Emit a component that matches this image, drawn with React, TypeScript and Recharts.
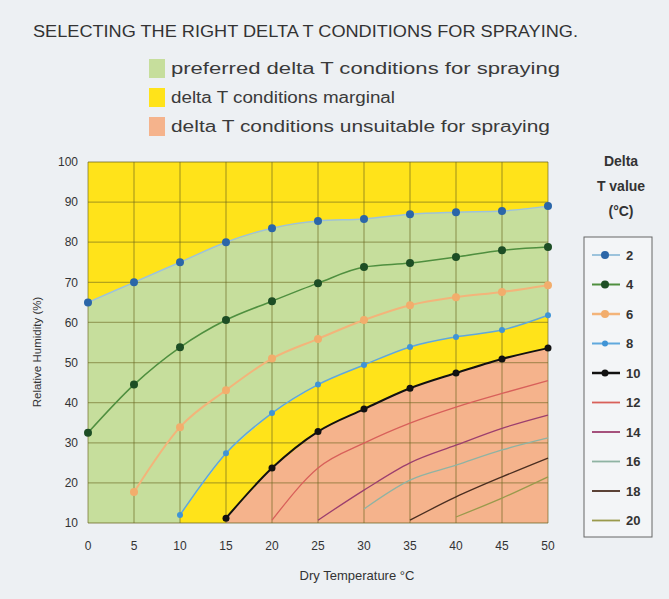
import React from "react";
import {
  ComposedChart,
  Area,
  Line,
  XAxis,
  YAxis,
  ReferenceArea,
  ReferenceLine,
} from "recharts";

// Dry temperature (°C)
const temps = [0, 5, 10, 15, 20, 25, 30, 35, 40, 45, 50];
// Relative humidity (%) for each Delta T value
const dt2 = [65, 70, 75, 80, 83.5, 85.3, 85.8, 87, 87.5, 87.8, 89];
const dt4 = [32.5, 44.5, 53.8, 60.6, 65.3, 69.8, 73.8, 74.8, 76.3, 78, 78.8];
const dt6 = [null, 17.7, 33.9, 43.1, 51, 55.9, 60.6, 64.3, 66.3, 67.6, 69.3];
const dt8 = [null, null, 12, 27.4, 37.4, 44.5, 49.4, 53.9, 56.4, 58.1, 61.8];
const dt10 = [null, null, null, 11.2, 23.7, 32.8, 38.4, 43.6, 47.4, 50.9, 53.6];
const dt12 = [null, null, null, null, 10.7, 23.7, 29.9, 34.9, 38.9, 42.3, 45.5];
const dt14 = [null, null, null, null, null, 10.7, 18.2, 25, 29.4, 33.6, 36.9];
const dt16 = [null, null, null, null, null, null, 13.5, 20.7, 24.4, 28.2, 31.2];
const dt18 = [null, null, null, null, null, null, null, 10.7, 16.5, 21.5, 26.2];
const dt20 = [null, null, null, null, null, null, null, null, 11.5, 16.2, 21.5];

const xTicks = [0, 5, 10, 15, 20, 25, 30, 35, 40, 45, 50];
const yTicks = [10, 20, 30, 40, 50, 60, 70, 80, 90, 100];

const title = "SELECTING THE RIGHT DELTA T CONDITIONS FOR SPRAYING.";
const zoneLabels = [
  "preferred delta T conditions for spraying",
  "delta T conditions marginal",
  "delta T conditions unsuitable for spraying",
];
const legendTitle = ["Delta", "T value", "(°C)"];
const xLabel = "Dry Temperature °C";
const yLabel = "Relative Humidity (%)";

const YELLOW = "#FFE31A";
const GREEN = "#C6DE9C";
const ORANGE = "#F5B38C";
const GRID = "rgba(105,100,30,0.5)";
const zoneColors = [GREEN, YELLOW, ORANGE];
const zoneWidths = [389, 224, 379];

const series = [
  { key: "dt2", name: "2", stroke: "#9cc3dc", width: 1.5, dot: "#2b66a8", r: 4 },
  { key: "dt4", name: "4", stroke: "#4f8f3f", width: 1.5, dot: "#1d4e25", r: 4 },
  { key: "dt6", name: "6", stroke: "#f3b47a", width: 2, dot: "#f2ad6c", r: 4 },
  { key: "dt8", name: "8", stroke: "#5fa8dd", width: 1.5, dot: "#3f94d6", r: 3 },
  { key: "dt10", name: "10", stroke: "#111111", width: 2, dot: "#111111", r: 3.5 },
  { key: "dt12", name: "12", stroke: "#d8605a", width: 1.3, dot: null, r: 0 },
  { key: "dt14", name: "14", stroke: "#9c3f6e", width: 1.3, dot: null, r: 0 },
  { key: "dt16", name: "16", stroke: "#8fb3a3", width: 1.3, dot: null, r: 0 },
  { key: "dt18", name: "18", stroke: "#4a2e20", width: 1.3, dot: null, r: 0 },
  { key: "dt20", name: "20", stroke: "#9a9a4c", width: 1.3, dot: null, r: 0 },
];

const data = temps.map((t, i) => ({
  t,
  dt2: dt2[i],
  dt4: dt4[i],
  dt6: dt6[i],
  dt8: dt8[i],
  dt10: dt10[i],
  dt12: dt12[i],
  dt14: dt14[i],
  dt16: dt16[i],
  dt18: dt18[i],
  dt20: dt20[i],
}));

const FONT = "'Liberation Sans', Arial, sans-serif";
const MARGIN = { top: 162, right: 121, bottom: 46, left: 38 };
const tickStyle = { fill: "#333", fontSize: 12, fontFamily: FONT };

export default function App() {
  return (
    <div
      style={{
        position: "absolute",
        left: 0,
        top: 0,
        width: 669,
        height: 599,
        background: "#edf0f3",
        overflow: "hidden",
      }}
    >
      {/* Layer 1: zone fills and axis tick labels */}
      <div style={{ position: "absolute", left: 0, top: 0 }}>
        <ComposedChart width={669} height={599} data={data} margin={MARGIN}>
          <ReferenceArea
            x1={0}
            x2={50}
            y1={10}
            y2={100}
            fill={YELLOW}
            fillOpacity={1}
            stroke="none"
          />
          <Area
            dataKey="dt2"
            type="linear"
            fill={GREEN}
            fillOpacity={1}
            stroke="none"
            dot={false}
            activeDot={false}
            isAnimationActive={false}
          />
          <Area
            dataKey="dt8"
            type="linear"
            fill={YELLOW}
            fillOpacity={1}
            stroke="none"
            dot={false}
            activeDot={false}
            isAnimationActive={false}
          />
          <Area
            dataKey="dt10"
            type="linear"
            fill={ORANGE}
            fillOpacity={1}
            stroke="none"
            dot={false}
            activeDot={false}
            isAnimationActive={false}
          />
          <XAxis
            dataKey="t"
            type="number"
            domain={[0, 50]}
            ticks={xTicks}
            axisLine={false}
            tickLine={false}
            tickMargin={12}
            tick={tickStyle}
          />
          <YAxis
            type="number"
            domain={[10, 100]}
            ticks={yTicks}
            allowDataOverflow
            axisLine={false}
            tickLine={false}
            tickMargin={4}
            width={50}
            tick={tickStyle}
          />
        </ComposedChart>
      </div>
      {/* Layer 2: grid and delta T curves on top of the fills */}
      <div style={{ position: "absolute", left: 0, top: 0 }}>
        <ComposedChart width={669} height={599} data={data} margin={MARGIN}>
          <XAxis
            dataKey="t"
            type="number"
            domain={[0, 50]}
            ticks={xTicks}
            axisLine={false}
            tickLine={false}
            tick={false}
          />
          <YAxis
            type="number"
            domain={[10, 100]}
            ticks={yTicks}
            allowDataOverflow
            axisLine={false}
            tickLine={false}
            width={50}
            tick={false}
          />
          {xTicks.map((x) => (
            <ReferenceLine key={"vx" + x} x={x} stroke={GRID} strokeWidth={1.3} />
          ))}
          {yTicks.map((y) => (
            <ReferenceLine key={"hy" + y} y={y} stroke={GRID} strokeWidth={1.3} />
          ))}
          {series.map((s) => (
            <Line
              key={s.key}
              dataKey={s.key}
              type="monotone"
              stroke={s.stroke}
              strokeWidth={s.width}
              dot={s.dot ? { r: s.r, fill: s.dot, stroke: s.dot, strokeWidth: 0 } : false}
              activeDot={false}
              isAnimationActive={false}
            />
          ))}
        </ComposedChart>
      </div>
      <svg
        width={669}
        height={599}
        style={{ position: "absolute", left: 0, top: 0, pointerEvents: "none" }}
      >
        <text
          x={33}
          y={37}
          fontSize={16}
          fill="#333"
          fontFamily={FONT}
          textLength={545}
          lengthAdjust="spacingAndGlyphs"
        >
          {title}
        </text>
        {zoneLabels.map((lab, i) => (
          <g key={lab}>
            <rect x={149} y={59 + i * 29} width={16} height={19} fill={zoneColors[i]} />
            <text
              x={171}
              y={74 + i * 29}
              fontSize={16}
              fill="#3a3a3a"
              fontFamily={FONT}
              textLength={zoneWidths[i]}
              lengthAdjust="spacingAndGlyphs"
            >
              {lab}
            </text>
          </g>
        ))}
        <text
          x={38}
          y={352}
          fontSize={11.5}
          fill="#333"
          fontFamily={FONT}
          textAnchor="middle"
          transform="rotate(-90 38 352)"
          dominantBaseline="middle"
        >
          {yLabel}
        </text>
        <text
          x={357}
          y={580}
          fontSize={13}
          fill="#333"
          fontFamily={FONT}
          textAnchor="middle"
        >
          {xLabel}
        </text>
        {legendTitle.map((l, i) => (
          <text
            key={l}
            x={621}
            y={166 + i * 25}
            fontSize={14}
            fontWeight="bold"
            fill="#333"
            fontFamily={FONT}
            textAnchor="middle"
          >
            {l}
          </text>
        ))}
        <rect x={584} y={237} width={68} height={300} fill="#f3f5f7" stroke="#666" strokeWidth={1} />
        {series.map((s, i) => {
          const y = 255 + i * 29.5;
          return (
            <g key={s.key}>
              <line x1={592} x2={620} y1={y} y2={y} stroke={s.stroke} strokeWidth={s.width + 0.5} />
              {s.dot ? <circle cx={605} cy={y} r={s.r} fill={s.dot} /> : null}
              <text
                x={626}
                y={y + 4.5}
                fontSize={13}
                fontWeight="bold"
                fill="#333"
                fontFamily={FONT}
              >
                {s.name}
              </text>
            </g>
          );
        })}
      </svg>
    </div>
  );
}
